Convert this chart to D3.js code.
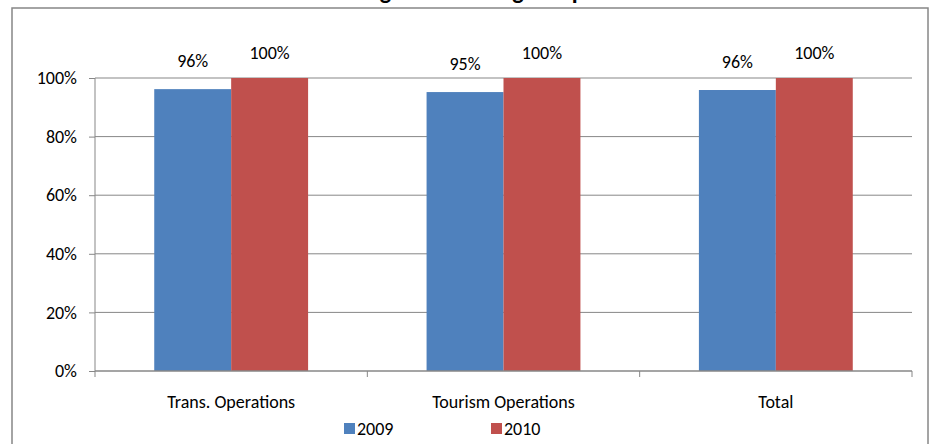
<!DOCTYPE html>
<html>
<head>
<meta charset="utf-8">
<script src="https://cdn.jsdelivr.net/npm/d3@7"></script>
<style>
  html, body { margin: 0; padding: 0; background: #fff; }
  svg text { font-family: Carlito, Lato, "Liberation Sans", sans-serif; fill: #000; }
</style>
</head>
<body>
<svg id="chart" width="930" height="444"></svg>
<script>
const title = "Percentage of the Budget Expended";
const categories = ["Trans. Operations", "Tourism Operations", "Total"];
const seriesNames = ["2009", "2010"];
const values2009 = [0.962, 0.952, 0.959];
const values2010 = [1.0, 1.0, 1.0];
const labels2009 = ["96%", "95%", "96%"];
const labels2010 = ["100%", "100%", "100%"];
const yTicks = [0, 0.2, 0.4, 0.6, 0.8, 1.0];
const colors = ["#4F81BD", "#C0504D"];

const svg = d3.select("#chart");
const plot = { left: 95, right: 912, top: 78, bottom: 371 };
const gridColor = "#878787";
const fs = "18px";

// outer border
svg.append("rect").attr("x", 12).attr("y", 8).attr("width", 916).attr("height", 460)
  .attr("fill", "none").attr("stroke", gridColor).attr("stroke-width", 1.5);

// title (clipped at top, as in the reference)
svg.append("text").attr("x", 470).attr("y", -1.5).attr("text-anchor", "middle")
  .style("font-size", "24px").style("font-weight", "bold").text(title);

const y = d3.scaleLinear().domain([0, 1]).range([plot.bottom, plot.top]);
const x = d3.scaleBand().domain(categories).range([plot.left, plot.right]).padding(0);
const x1 = d3.scaleBand().domain(seriesNames).range([0, x.bandwidth()]).paddingInner(0).paddingOuter(0.77);

// gridlines
svg.append("g").selectAll("line").data(yTicks.filter(d => d > 0)).join("line")
  .attr("x1", plot.left).attr("x2", plot.right)
  .attr("y1", d => y(d)).attr("y2", d => y(d))
  .attr("stroke", gridColor).attr("stroke-width", 1);

// bars
const data = categories.map((c, i) => ({ cat: c, vals: [
  { s: seriesNames[0], v: values2009[i], label: labels2009[i] },
  { s: seriesNames[1], v: values2010[i], label: labels2010[i] }
]}));

const groups = svg.append("g").selectAll("g").data(data).join("g")
  .attr("transform", d => `translate(${x(d.cat)},0)`);

groups.selectAll("rect").data(d => d.vals).join("rect")
  .attr("x", d => x1(d.s)).attr("width", x1.bandwidth())
  .attr("y", d => y(d.v)).attr("height", d => y(0) - y(d.v))
  .attr("fill", (d, i) => colors[i]);

groups.selectAll("text.lbl").data(d => d.vals).join("text").attr("class", "lbl")
  .attr("x", d => x1(d.s) + x1.bandwidth() / 2)
  .attr("y", (d, i) => y(d.v) - (i === 0 ? 22 : 19))
  .attr("text-anchor", "middle").style("font-size", fs).text(d => d.label);

// y axis
const yAxis = d3.axisLeft(y).tickValues(yTicks).tickFormat(d3.format(".0%")).tickSize(6).tickPadding(12);
const gy = svg.append("g").attr("transform", `translate(${plot.left},0)`).call(yAxis);
gy.select(".domain").attr("stroke", gridColor).attr("d", `M-0,${plot.bottom}V${plot.top}`);
gy.selectAll(".tick line").attr("stroke", gridColor);
gy.selectAll(".tick text").style("font-size", fs).style("font-family", "Carlito, Lato, sans-serif").attr("fill", "#000");

// x axis
const gx = svg.append("g").attr("transform", `translate(0,${plot.bottom})`);
gx.append("line").attr("x1", plot.left).attr("x2", plot.right).attr("y1", 0).attr("y2", 0)
  .attr("stroke", gridColor).attr("stroke-width", 1.5);
const boundaries = categories.map(c => x(c)).concat([x(categories[categories.length - 1]) + x.bandwidth()]);
gx.selectAll("line.tk").data(boundaries).join("line").attr("class", "tk")
  .attr("x1", d => d).attr("x2", d => d).attr("y1", 0).attr("y2", 6)
  .attr("stroke", gridColor);
gx.selectAll("text").data(categories).join("text")
  .attr("x", d => x(d) + x.bandwidth() / 2).attr("y", 37)
  .attr("text-anchor", "middle").style("font-size", fs).text(d => d);

// legend
const legendX = [344, 491];
const lg = svg.append("g").selectAll("g").data(seriesNames).join("g")
  .attr("transform", (d, i) => `translate(${legendX[i]},423)`);
lg.append("rect").attr("width", 11).attr("height", 11).attr("fill", (d, i) => colors[i]);
lg.append("text").attr("x", 13).attr("y", 11.5).style("font-size", fs).text(d => d);
</script>
</body>
</html>
